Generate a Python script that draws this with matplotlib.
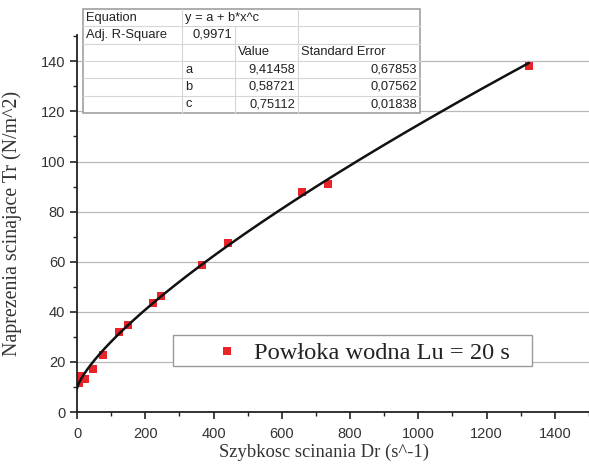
import numpy as np
import matplotlib.pyplot as plt
from matplotlib.lines import Line2D
from matplotlib.patches import Rectangle
from matplotlib.ticker import MultipleLocator

# measured points
shear_rate = [5, 12, 22, 46, 77, 124, 148, 222, 245, 367, 441, 660, 735, 1323]
shear_stress = [11.5, 14.5, 13.0, 17.3, 22.9, 31.8, 34.6, 43.6, 46.5, 58.5, 67.5, 87.9, 90.9, 138.1]

# fit results y = a + b*x^c
param_names = ['a', 'b', 'c']
param_values = [9.41458, 0.58721, 0.75112]
param_errors = [0.67853, 0.07562, 0.01838]
adj_r2 = 0.9971
equation = 'y = a + b*x^c'

series_label = 'Powłoka wodna Lu = 20 s'


def fmt(v, nd):
    return f'{v:.{nd}f}'.replace('.', ',')


def main():
    W, H = 589, 465
    fig = plt.figure(figsize=(W / 100, H / 100), dpi=100)
    ax = fig.add_axes([77 / W, 53 / H, 512 / W, 377 / H])

    sans = ['Liberation Sans', 'DejaVu Sans']
    serif = ['Liberation Serif', 'DejaVu Serif']
    red = '#e8242a'

    # fitted curve
    a, b, c = param_values
    xf = np.linspace(0, max(shear_rate), 400)
    ax.plot(xf, a + b * xf ** c, color='#111111', lw=1.8, zorder=3)
    ax.plot(shear_rate, shear_stress, 's', color=red, ms=6.4, mew=0, zorder=2)

    ax.set_xlim(0, 1500)
    ax.set_ylim(0, 150.5)
    ax.xaxis.set_major_locator(MultipleLocator(200))
    ax.xaxis.set_minor_locator(MultipleLocator(100))
    ax.yaxis.set_major_locator(MultipleLocator(20))
    ax.yaxis.set_minor_locator(MultipleLocator(10))
    ax.yaxis.grid(True, which='major', color='#b8b8b8', lw=0.9)
    ax.set_axisbelow(True)

    for s in ['top', 'right']:
        ax.spines[s].set_visible(False)
    for s in ['left', 'bottom']:
        ax.spines[s].set_linewidth(1.3)
        ax.spines[s].set_color('#222222')
    ax.tick_params(which='major', direction='out', length=5, width=1.2, colors='#222222',
                   labelsize=10.5, labelcolor='#333333')
    ax.tick_params(axis='x', which='major', pad=6)
    ax.tick_params(which='minor', direction='out', length=3, width=1.0, colors='#222222')
    for lab in ax.get_xticklabels() + ax.get_yticklabels():
        lab.set_family(sans)

    ax.set_xlabel('Szybkosc scinania Dr (s^-1)', family=serif, fontsize=13.4, color='#333333')
    ax.set_ylabel('Naprezenia scinajace Tr (N/m^2)', family=serif, fontsize=14.4, color='#333333')
    ax.xaxis.set_label_coords((324 - 77) / 512, (412 - 444) / 377)
    ax.yaxis.set_label_coords((22 - 77) / 512, 0.5)

    def fx(x):
        return x / W

    def fy(y):
        return 1 - y / H

    # legend box
    fig.patches.append(Rectangle((fx(173), fy(366)), fx(532 - 173), 31 / H,
                                 transform=fig.transFigure, facecolor='white',
                                 edgecolor='#999999', lw=1.0, zorder=5))
    fig.lines.append(Line2D([fx(227)], [fy(350.5)], marker='s', color=red, ms=6.0, mew=0,
                            transform=fig.transFigure, zorder=6))
    fig.text(fx(254), fy(350.5), series_label, family=serif, fontsize=17.6, color='#222222',
             ha='left', va='center_baseline', zorder=6)

    # fit table (figure pixel coords, top-left origin)
    cols = [83, 182, 235, 298, 420]
    top, rh = 9, 17.33
    nrows = 6

    fig.patches.append(Rectangle((fx(cols[0]), fy(top + nrows * rh)), fx(cols[-1] - cols[0]),
                                 nrows * rh / H, transform=fig.transFigure, facecolor='white',
                                 edgecolor='#a0a0a0', lw=1.2, zorder=5))
    grid_c = '#d6d6d6'
    for r in range(1, nrows):
        y = fy(top + r * rh)
        fig.lines.append(Line2D([fx(cols[0]), fx(cols[-1])], [y, y], transform=fig.transFigure,
                                color=grid_c, lw=0.8, zorder=6))
    # vertical lines: col edges, row 0 has merged cols 1-2
    for ci in (1, 2, 3):
        r0 = 1 if ci == 2 else 0
        fig.lines.append(Line2D([fx(cols[ci]), fx(cols[ci])], [fy(top + r0 * rh), fy(top + nrows * rh)],
                                transform=fig.transFigure, color=grid_c, lw=0.8, zorder=6))

    tk = dict(family=sans, fontsize=9.3, color='#222222', va='center', zorder=7,
              transform=fig.transFigure)

    def cell(r, ci, text, align='left'):
        y = fy(top + (r + 0.5) * rh)
        if align == 'left':
            fig.text(fx(cols[ci] + 3), y, text, ha='left', **tk)
        else:
            fig.text(fx(cols[ci + 1] - 3), y, text, ha='right', **tk)

    cell(0, 0, 'Equation')
    cell(0, 1, equation)
    cell(1, 0, 'Adj. R-Square')
    cell(1, 1, fmt(adj_r2, 4), 'right')
    cell(2, 2, 'Value')
    cell(2, 3, 'Standard Error')
    for i in range(3):
        cell(3 + i, 1, param_names[i])
        cell(3 + i, 2, fmt(param_values[i], 5), 'right')
        cell(3 + i, 3, fmt(param_errors[i], 5), 'right')

    fig.savefig('out.png', dpi=100)


if __name__ == "__main__":
    main()
